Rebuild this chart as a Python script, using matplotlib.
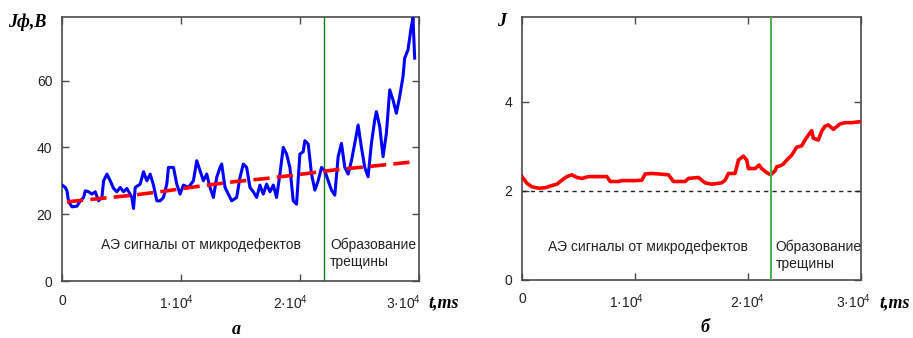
import matplotlib
matplotlib.use("Agg")
import matplotlib.pyplot as plt
import matplotlib.transforms as mtransforms

plt.rcParams["mathtext.fontset"] = "custom"
plt.rcParams["mathtext.rm"] = "Liberation Sans"
plt.rcParams["mathtext.it"] = "Liberation Sans:italic"
plt.rcParams["mathtext.bf"] = "Liberation Sans:bold"

# --- data: plot (a), AE signal amplitude Jф, B vs time t, ms
t_a = [0, 280, 419, 559, 839, 1258, 1538, 1817, 1957, 2237, 2516, 2796, 3076, 3355,
       3495, 3775, 4054, 4334, 4613, 4893, 5173, 5452, 5872, 6011, 6151, 6571, 6850,
       7130, 7409, 7689, 7969, 8248, 8528, 8807, 8947, 9367, 9646, 9926, 10205, 10625,
       11044, 11324, 11603, 11883, 12163, 12442, 12722, 13001, 13281, 13421, 13700,
       13980, 14260, 14679, 14959, 15238, 15518, 15797, 16077, 16357, 16636, 16916,
       17195, 17475, 17755, 18034, 18314, 18593, 18873, 19153, 19432, 19712, 19991,
       20271, 20411, 20690, 20970, 21250, 21529, 21809, 22088, 22368, 22648, 22927,
       23207, 23486, 23766, 24046, 24325, 24605, 24884, 25164, 25444, 25723, 26003,
       26282, 26422, 26702, 26981, 27261, 27541, 27820, 28100, 28379, 28659, 28799,
       29078, 29358, 29498, 29638]
j_a = [28.7, 28.0, 27.0, 23.7, 22.2, 22.4, 24.0, 25.0, 27.0, 26.7, 26.0, 26.7, 24.0,
       25.0, 30.0, 32.0, 30.0, 27.7, 26.7, 28.0, 26.7, 27.7, 25.0, 21.7, 28.0, 29.0,
       32.7, 30.0, 32.0, 28.7, 24.0, 24.0, 25.0, 29.0, 34.0, 34.0, 29.0, 26.0, 28.7,
       28.0, 30.0, 36.0, 33.0, 30.0, 32.0, 28.0, 25.0, 31.0, 34.0, 35.0, 28.0, 26.0,
       24.0, 25.0, 31.0, 35.0, 34.0, 28.0, 26.7, 25.0, 28.7, 26.0, 29.0, 26.7, 28.7,
       25.0, 32.0, 40.0, 38.0, 34.0, 24.0, 23.0, 38.0, 38.7, 42.0, 41.0, 32.0, 27.2,
       30.0, 34.0, 33.0, 30.0, 27.2, 25.7, 37.2, 41.2, 34.0, 32.0, 36.0, 41.2, 46.7,
       40.0, 34.0, 31.2, 41.2, 48.2, 50.7, 46.2, 37.2, 44.2, 57.2, 54.2, 50.2, 55.2,
       61.2, 66.7, 69.2, 76.2, 78.7, 66.7]

# trend line (red dashed)
t_trend = [419, 3215, 6011, 8807, 11603, 14399, 17195, 19991, 22788, 25584, 29638]
j_trend = [23.7, 24.7, 25.7, 27.0, 28.4, 29.7, 30.7, 31.9, 33.2, 34.2, 35.7]

# --- data: plot (б), parameter J vs time
t_b = [0, 442, 884, 1474, 2063, 2652, 3094, 3536, 3978, 4421, 4863, 5305, 5894, 6778,
       7515, 7810, 8546, 8841, 10020, 10609, 10904, 11493, 12083, 12967, 13409, 14440,
       14735, 15619, 16209, 16798, 17682, 17977, 18271, 18861, 19156, 19598, 19892,
       20040, 20629, 20983, 21218, 21660, 22014, 22397, 22545, 22839, 23134, 23428,
       23871, 24313, 24755, 25050, 25344, 25639, 25786, 26228, 26523, 26818, 27112,
       27554, 28144, 28586, 29175, 29853]
j_b = [2.32, 2.17, 2.09, 2.06, 2.07, 2.12, 2.15, 2.24, 2.32, 2.36, 2.30, 2.28, 2.32,
       2.32, 2.32, 2.21, 2.21, 2.23, 2.23, 2.24, 2.38, 2.39, 2.38, 2.36, 2.21, 2.21,
       2.28, 2.30, 2.18, 2.15, 2.18, 2.24, 2.39, 2.39, 2.69, 2.78, 2.69, 2.50, 2.50,
       2.58, 2.50, 2.41, 2.36, 2.45, 2.54, 2.56, 2.60, 2.69, 2.80, 2.98, 3.01, 3.14,
       3.25, 3.35, 3.18, 3.14, 3.34, 3.45, 3.48, 3.38, 3.50, 3.53, 3.53, 3.55]

t_crack = 22000
j_threshold = 2

x_ticks = [0, 10000, 20000, 30000]
x_labels = ["0", "1·10$^{4}$", "2·10$^{4}$", "3·10$^{4}$"]

sans = ["Liberation Sans", "DejaVu Sans"]
serif = ["Liberation Serif", "DejaVu Serif"]
spine_col = "#4a4a4a"
txt_col = "#222222"

fig = plt.figure(figsize=(9.13, 3.38), dpi=100)
ax1 = fig.add_axes([0.0679, 0.1686, 0.391, 0.781])
ax2 = fig.add_axes([0.5717, 0.1716, 0.3713, 0.778])


def style(ax, yticks, shifts):
    for s in ax.spines.values():
        s.set_color(spine_col)
        s.set_linewidth(1.2)
    ax.tick_params(direction="in", top=True, right=True, length=5,
                   color=spine_col, width=1.0, labelsize=10, labelcolor=txt_col)
    ax.tick_params(axis="x", pad=9)
    ax.tick_params(axis="y", pad=7)
    ax.set_xlim(0, 30000)
    ax.set_xticks(x_ticks)
    ax.set_xticklabels(x_labels, family=sans)
    ax.set_yticks(yticks)
    ax.set_yticklabels([str(v) for v in yticks], family=sans)
    # reference labels sit a little left of their ticks
    for lab, dx in zip(ax.get_xticklabels(), shifts):
        lab.set_transform(lab.get_transform() +
                          mtransforms.ScaledTranslation(dx / 100, 0, fig.dpi_scale_trans))


# (a)
ax1.plot(t_a, j_a, color="#0000ff", lw=2.2, zorder=3)
ax1.plot(t_trend, j_trend, color="#ff0000", lw=2.6, ls=(0, (4.5, 2)), zorder=4)
ax1.axvline(t_crack, color="#008000", lw=1.0, zorder=2)
ax1.set_ylim(0, 79)
style(ax1, [0, 20, 40, 60], [0, -5, -9, -15])
ax1.text(0.109, 0.163, "АЭ сигналы от микродефектов", transform=ax1.transAxes,
         ha="left", va="top", fontsize=10, family=sans, color=txt_col)
ax1.text(0.751, 0.163, "Образование\nтрещины", transform=ax1.transAxes,
         ha="left", va="top", fontsize=10, family=sans, color=txt_col)

# (б)
ax2.plot(t_b, j_b, color="#ff0000", lw=2.6, zorder=3)
ax2.axhline(j_threshold, color="#222222", lw=1.0, ls=(0, (3, 3)), zorder=2)
ax2.axvline(t_crack, color="#4caf50", lw=1.5, zorder=4)
ax2.set_ylim(0, 5.9)
style(ax2, [0, 2, 4], [0, -8, 0, -7])
ax2.text(0.077, 0.152, "АЭ сигналы от микродефектов", transform=ax2.transAxes,
         ha="left", va="top", fontsize=10, family=sans, color=txt_col)
ax2.text(0.749, 0.152, "Образование\nтрещины", transform=ax2.transAxes,
         ha="left", va="top", fontsize=10, family=sans, color=txt_col)

# axis titles and panel letters
lbl = dict(family=serif, fontweight="bold", style="italic", fontsize=13, color="black")
fig.text(8 / 913, 1 - 22 / 338, "Jф,B", ha="left", va="center", **lbl)
fig.text(428 / 913, 1 - 303 / 338, "t,ms", ha="left", va="center", **lbl)
fig.text(497 / 913, 1 - 22 / 338, "J", ha="left", va="center", **lbl)
fig.text(879 / 913, 1 - 303 / 338, "t,ms", ha="left", va="center", **lbl)
fig.text(236 / 913, 1 - 329 / 338, "а", ha="center", va="center", **lbl)
fig.text(705 / 913, 1 - 327 / 338, "б", ha="center", va="center", **lbl)

fig.savefig("out.png", dpi=100)
